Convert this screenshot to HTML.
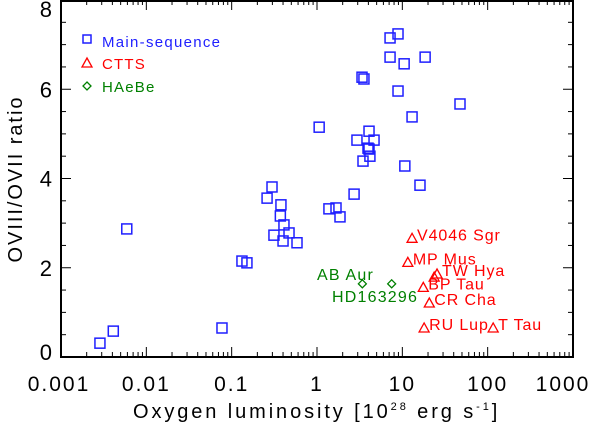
<!DOCTYPE html>
<html><head><meta charset="utf-8"><style>
html,body{margin:0;padding:0;background:#fff;}
svg{display:block;font-family:"Liberation Sans","DejaVu Sans",sans-serif;}
</style></head><body>
<svg id="chart" width="601" height="427" viewBox="0 0 601 427">
<g id="axes"></g><g id="marks"></g>
</svg>
<script>
const msX=[0.00286,0.0041,0.0059,0.077,0.132,0.151,0.26,0.297,0.378,0.372,0.313,0.41,0.40,0.47,0.583,7.18,8.9,7.18,10.5,18.5,3.37,3.55,8.9,47.4,13.0,1.06,4.07,2.94,4.66,3.96,4.07,4.17,3.46,10.7,16.1,2.72,1.38,1.67,1.86];
const msY=[0.31,0.58,2.87,0.65,2.15,2.11,3.56,3.81,3.41,3.16,2.73,2.96,2.60,2.78,2.56,7.15,7.24,6.72,6.57,6.72,6.27,6.23,5.96,5.67,5.38,5.15,5.06,4.86,4.86,4.68,4.66,4.5,4.39,4.28,3.85,3.65,3.32,3.34,3.14];
const cttsX=[13.0,11.6,25.5,23.6,17.6,20.7,18.0,116];
const cttsY=[2.66,2.12,1.86,1.79,1.56,1.21,0.65,0.65];
const cttsNames=["V4046 Sgr","MP Mus","TW Hya","","BP Tau","CR Cha","RU Lup","T Tau"];
const haeX=[3.4,7.5];
const haeY=[1.64,1.64];
const haeNames=["AB Aur","HD163296"];
const xTicks=[0.001,0.01,0.1,1,10,100,1000];
const xTickLabels=["0.001","0.01","0.1","1","10","100","1000"];
const yTicks=[0,2,4,6,8];

const L=61,R=573,T=0,B=357;
const sx=v=>L+(Math.log10(v)+3)*(R-L)/6;
const sy=v=>B-v*(B-T)/8;
const NS="http://www.w3.org/2000/svg";
const axes=document.getElementById('axes'),marks=document.getElementById('marks');
function el(tag,at,parent,txt){const e=document.createElementNS(NS,tag);for(const k in at)e.setAttribute(k,at[k]);if(txt!==undefined)e.textContent=txt;parent.appendChild(e);return e;}

const frame=el('rect',{x:L,y:T+1,width:R-L,height:B-T-1,fill:'none',stroke:'#000','stroke-width':2},axes);


for(let d=-3;d<3;d++){for(let m=1;m<10;m++){const v=m*Math.pow(10,d);const x=sx(v);const len=m===1?10:5;
 el('line',{x1:x,y1:B,x2:x,y2:B-len,stroke:'#000','stroke-width':1},axes);
 el('line',{x1:x,y1:T,x2:x,y2:T+len,stroke:'#000','stroke-width':1},axes);}}
xTicks.forEach((v,i)=>{const t=el('text',{x:sx(v)+(i===6?-10:0)+(i===0?-2:0),y:391,'font-size':21,'letter-spacing':2,'text-anchor':'middle'},axes,xTickLabels[i]);
 
 });
for(let v=0;v<=8;v+=0.5){const y=sy(v);const len=(v%2===0)?10:5;
 el('line',{x1:L,y1:y,x2:L+len,y2:y,stroke:'#000'},axes);
 el('line',{x1:R,y1:y,x2:R-len,y2:y,stroke:'#000'},axes);}
yTicks.forEach(v=>{const t=el('text',{x:52,y:Math.min(Math.max(sy(v)+8,17),360),'font-size':22,'text-anchor':'end'},axes,String(v));
 
 });
const yt=el('text',{x:0,y:0,'font-size':20,textLength:165,lengthAdjust:'spacing','text-anchor':'middle',transform:'translate(22,180) rotate(-90)'},axes,'OVIII/OVII ratio');


const xt=el('text',{x:133,y:418,'font-size':20,'letter-spacing':2.9},axes);


xt.appendChild(document.createTextNode('Oxygen luminosity [10'));
el('tspan',{'font-size':11,dy:-8},xt,'28');
el('tspan',{dy:8},xt,' erg s');
el('tspan',{'font-size':11,dy:-8},xt,'-1');
el('tspan',{dy:8},xt,']');

msX.forEach((v,i)=>{const r=el('rect',{x:sx(v)-5,y:sy(msY[i])-5,width:10,height:10,fill:'none',stroke:'#1f1fff','stroke-width':1.5},marks);
 
 });
function tri(x,y,c,p){return el('polygon',{points:`${x-5},${y+4} ${x+5},${y+4} ${x},${y-5}`,fill:'none',stroke:c,'stroke-width':1.3},p);}
cttsX.forEach((v,i)=>{const x=sx(v),y=sy(cttsY[i]);const t=tri(x,y,'#ff0000',marks);
 
 
 if(cttsNames[i]){const lb=el('text',{x:x+5,y:y+2,'font-size':16,'letter-spacing':0.9,fill:'#ff0000'},marks,cttsNames[i]);
 
 }});
haeX.forEach((v,i)=>{const x=sx(v),y=sy(haeY[i]);const d=el('polygon',{points:`${x},${y-4} ${x+4},${y} ${x},${y+4} ${x-4},${y}`,fill:'none',stroke:'#008000','stroke-width':1.3},marks);
 
 });
const ab=el('text',{x:317,y:280,'font-size':16,'letter-spacing':1.2,fill:'#008000'},marks,haeNames[0]);


const hd=el('text',{x:332,y:302,'font-size':16,'letter-spacing':1.2,fill:'#008000'},marks,haeNames[1]);



const lg=el('g',{},marks);


el('rect',{x:83,y:35,width:8,height:8,fill:'none',stroke:'#1f1fff','stroke-width':1.5},lg);
tri(87,63,'#ff0000',lg);
el('polygon',{points:'87,82 91,86 87,90 83,86',fill:'none',stroke:'#008000','stroke-width':1.3},lg);
const e1=el('text',{x:102,y:47,'font-size':15,textLength:118,lengthAdjust:'spacing',fill:'#1f1fff'},lg,'Main-sequence');


const e2=el('text',{x:102,y:69,'font-size':15,'letter-spacing':1.2,fill:'#ff0000'},lg,'CTTS');


const e3=el('text',{x:102,y:92,'font-size':15,'letter-spacing':1.2,fill:'#008000'},lg,'HAeBe');


</script>
</body></html>
